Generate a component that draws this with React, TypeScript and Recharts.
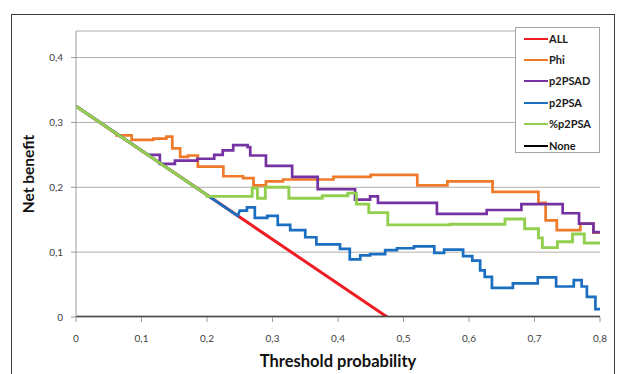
import React from 'react';
import { LineChart, Line, XAxis, YAxis, CartesianGrid, Legend, Label } from 'recharts';

// ---- data ----
const X_TICKS = [0, 0.1, 0.2, 0.3, 0.4, 0.5, 0.6, 0.7, 0.8];
const Y_TICKS = [0, 0.1, 0.2, 0.3, 0.4];

const ALL_T = [0, 0.475];
const ALL_V = [0.325, 0];

const NONE_T = [0, 0.8];
const NONE_V = [0, 0];

const PHI_START_T = [0, 0.062];
const PHI_START_V = [0.325, 0.282];
const PHI_STEP_T = [0.062, 0.085, 0.118, 0.138, 0.147, 0.159, 0.171, 0.186, 0.225, 0.255, 0.271, 0.29, 0.316, 0.393, 0.45, 0.521, 0.567, 0.636, 0.706, 0.717, 0.734, 0.77, 0.79];
const PHI_STEP_V = [0.28, 0.273, 0.275, 0.278, 0.26, 0.247, 0.249, 0.232, 0.217, 0.214, 0.203, 0.209, 0.212, 0.216, 0.219, 0.203, 0.209, 0.193, 0.176, 0.149, 0.134, 0.144, 0.13];

const P2PSAD_START_T = [0, 0.11];
const P2PSAD_START_V = [0.325, 0.25];
const P2PSAD_STEP_T = [0.11, 0.128, 0.151, 0.185, 0.211, 0.224, 0.24, 0.262, 0.266, 0.29, 0.33, 0.369, 0.426, 0.449, 0.461, 0.551, 0.627, 0.68, 0.743, 0.768, 0.79];
const P2PSAD_STEP_V = [0.25, 0.236, 0.241, 0.244, 0.25, 0.257, 0.265, 0.262, 0.249, 0.233, 0.216, 0.197, 0.181, 0.186, 0.176, 0.159, 0.165, 0.174, 0.16, 0.144, 0.131];

const P2PSA_START_T = [0, 0.247];
const P2PSA_START_V = [0.325, 0.156];
const P2PSA_STEP_T = [0.25, 0.261, 0.273, 0.292, 0.308, 0.327, 0.35, 0.367, 0.403, 0.418, 0.434, 0.449, 0.472, 0.49, 0.516, 0.547, 0.562, 0.591, 0.605, 0.617, 0.624, 0.635, 0.667, 0.705, 0.733, 0.76, 0.772, 0.78, 0.793];
const P2PSA_STEP_V = [0.164, 0.169, 0.153, 0.156, 0.142, 0.134, 0.123, 0.112, 0.105, 0.089, 0.095, 0.097, 0.103, 0.106, 0.109, 0.099, 0.104, 0.094, 0.087, 0.072, 0.062, 0.045, 0.052, 0.061, 0.047, 0.057, 0.047, 0.031, 0.012];

const PCT_START_T = [0, 0.2];
const PCT_START_V = [0.325, 0.188];
const PCT_STEP_T = [0.2, 0.269, 0.277, 0.289, 0.325, 0.376, 0.415, 0.428, 0.447, 0.476, 0.571, 0.655, 0.685, 0.706, 0.712, 0.735, 0.758, 0.776];
const PCT_STEP_V = [0.186, 0.199, 0.183, 0.2, 0.183, 0.187, 0.191, 0.174, 0.161, 0.142, 0.143, 0.151, 0.136, 0.122, 0.107, 0.116, 0.128, 0.114];

const END_T = 0.8;

type Pt = { t: number; v: number };

function pairs(ts: number[], vs: number[]): Pt[] {
  return ts.map((t, i) => ({ t, v: vs[i] }));
}

// start segment (points) followed by a staircase (value holds until next step)
function staircase(st: number[], sv: number[], ts: number[], vs: number[]): Pt[] {
  const pts = pairs(st, sv);
  ts.forEach((t, i) => {
    const next = i + 1 < ts.length ? ts[i + 1] : END_T;
    pts.push({ t, v: vs[i] });
    pts.push({ t: next, v: vs[i] });
  });
  return pts;
}

const SERIES = [
  { name: 'ALL', color: '#ee1d23', width: 3, data: pairs(ALL_T, ALL_V) },
  { name: 'Phi', color: '#ee7a2a', width: 2.7, data: staircase(PHI_START_T, PHI_START_V, PHI_STEP_T, PHI_STEP_V) },
  { name: 'p2PSAD', color: '#7532a2', width: 2.7, data: staircase(P2PSAD_START_T, P2PSAD_START_V, P2PSAD_STEP_T, P2PSAD_STEP_V) },
  { name: 'p2PSA', color: '#1b6fc0', width: 2.7, data: staircase(P2PSA_START_T, P2PSA_START_V, P2PSA_STEP_T, P2PSA_STEP_V) },
  { name: '%p2PSA', color: '#92cf4e', width: 2.9, data: staircase(PCT_START_T, PCT_START_V, PCT_STEP_T, PCT_STEP_V) },
  { name: 'None', color: '#000000', width: 2.7, data: pairs(NONE_T, NONE_V) },
];

const fmt = (v: number) => (v === 0 ? '0' : String(Math.round(v * 10) / 10).replace('.', ','));

const FONT = 'Lato, "Liberation Sans", sans-serif';

function LegendBox() {
  return (
    <div
      style={{
        width: 85,
        height: 126,
        border: '1px solid #a3a3a3',
        background: '#fff',
        boxSizing: 'border-box',
        fontFamily: FONT,
      }}
    >
      {SERIES.map((s) => (
        <div key={s.name} style={{ height: 21.4, display: 'flex', alignItems: 'center' }}>
          <div style={{ width: 24, height: 2, background: s.color, marginLeft: 8 }} />
          <span style={{ fontSize: 11, fontWeight: 700, color: '#1a1a1a', marginLeft: 1, lineHeight: '12px' }}>{s.name}</span>
        </div>
      ))}
    </div>
  );
}

export default function App() {
  return (
    <div style={{ position: 'relative', width: 618, height: 374, overflow: 'hidden', background: '#fff' }}>
      <style>{`body{margin:0;}`}</style>
      <div
        style={{
          position: 'absolute',
          left: 11,
          top: 14,
          width: 604,
          height: 380,
          border: '1.5px solid #3a3a3a',
          boxSizing: 'border-box',
        }}
      />
      <div style={{ position: 'absolute', left: 0, top: 0 }}>
        <LineChart width={618} height={374} margin={{ top: 31, right: 18, bottom: 32, left: 36 }}>
          <CartesianGrid horizontal vertical={false} stroke="#b0b0b0" strokeWidth={1} />
          <XAxis
            type="number"
            dataKey="t"
            domain={[0, 0.8]}
            ticks={X_TICKS}
            tickFormatter={fmt}
            height={25}
            tickSize={5}
            tickMargin={13}
            stroke="#9a9a9a"
            tick={{ fill: '#404040', fontSize: 10, fontFamily: FONT }}
            allowDataOverflow
          >
            <Label
              value="Threshold probability"
              position="bottom"
              offset={13}
              style={{ fontFamily: FONT, fontSize: 16.5, fontWeight: 700, fill: '#111' }}
            />
          </XAxis>
          <YAxis
            type="number"
            dataKey="v"
            domain={[0, 0.441]}
            ticks={Y_TICKS}
            tickFormatter={fmt}
            width={40}
            tickSize={5}
            tickMargin={8}
            stroke="#9a9a9a"
            tick={{ fill: '#404040', fontSize: 10, fontFamily: FONT }}
            allowDataOverflow
          >
            <Label
              value="Net benefit"
              angle={-90}
              position="insideLeft"
              offset={-8}
              style={{ fontFamily: FONT, fontSize: 15.5, fontWeight: 700, fill: '#111', textAnchor: 'middle' }}
            />
          </YAxis>
          <Legend
            layout="horizontal"
            align="center"
            verticalAlign="middle"
            wrapperStyle={{ position: 'absolute', left: 515, top: 27, width: 85, height: 126 }}
            content={() => <LegendBox />}
          />
          {SERIES.map((s) => (
            <Line
              key={s.name}
              name={s.name}
              data={s.data}
              dataKey="v"
              type="linear"
              stroke={s.color}
              strokeWidth={s.width}
              dot={false}
              activeDot={false}
              isAnimationActive={false}
            />
          ))}
        </LineChart>
      </div>
    </div>
  );
}
